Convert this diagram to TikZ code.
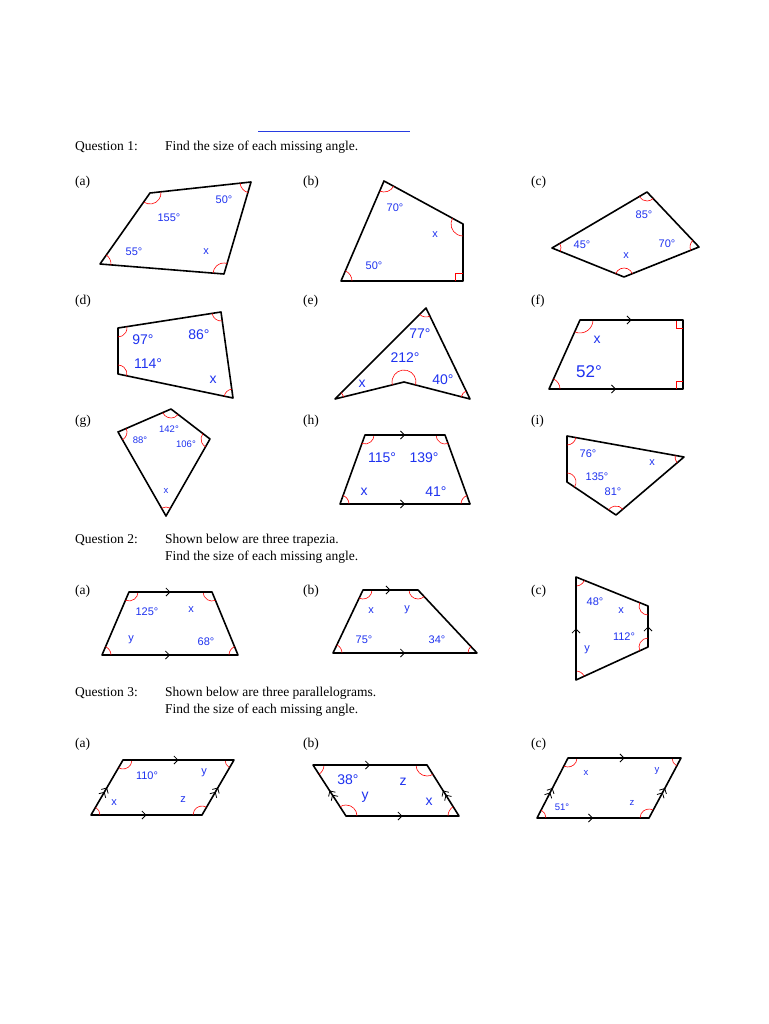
\documentclass[tikz,border=0pt]{standalone}
\usepackage{fontspec}
\setmainfont{Liberation Serif}
\newfontfamily\lab{Liberation Sans}
\usetikzlibrary{angles,decorations.markings,arrows.meta}
\definecolor{lblue}{RGB}{30,50,240}
\definecolor{lineblue}{RGB}{40,60,225}
\tikzset{
 poly/.style={draw=black,line width=1.6pt,line join=round},
 heading/.style={anchor=base west,font=\fontsize{13.5}{16}\selectfont,inner sep=0pt},
 lbl/.style={text=lblue,font=\lab\fontsize{11}{12}\selectfont,inner sep=0pt},
 lblb/.style={text=lblue,font=\lab\fontsize{14}{15}\selectfont,inner sep=0pt},
 lbls/.style={text=lblue,font=\lab\fontsize{9.5}{10}\selectfont,inner sep=0pt},
 parmark/.style={postaction={decorate},decoration={markings,mark=at position 0.5 with {\arrow[black,line width=0.8pt]{Straight Barb[length=4pt,width=8pt]}}}},
 dparmark/.style={postaction={decorate},decoration={markings,mark=at position 0.5 with {\arrow[black,line width=0.8pt]{Straight Barb[length=4pt,width=8pt]Straight Barb[length=4pt,width=8pt]}}}},
 rang/.style={draw=red,line width=0.6pt}
}
\newcommand\quadshape[5]{%
 \coordinate (#1-1) at #2; \coordinate (#1-2) at #3; \coordinate (#1-3) at #4; \coordinate (#1-4) at #5;
 \draw[poly] (#1-1)--(#1-2)--(#1-3)--(#1-4)--cycle;}
\newcommand\va[4][9pt]{\path pic[draw=red,line width=0.6pt,angle radius=#1]{angle=#2--#3--#4};}
\newcommand\allarcs[2][9pt]{\va[#1]{#2-4}{#2-1}{#2-2}\va[#1]{#2-1}{#2-2}{#2-3}\va[#1]{#2-2}{#2-3}{#2-4}\va[#1]{#2-3}{#2-4}{#2-1}}
\begin{document}
\begin{tikzpicture}[x=1pt,y=-1pt]
\useasboundingbox (0,0) rectangle (768,1024);
\fill[white] (0,0) rectangle (768,1024);
% header line
\coordinate (bl1) at (258,132); \coordinate (bl2) at (410,132);
\draw[lineblue,line width=1pt] (bl1)--(bl2);
\node[heading] (q1) at (75,151) {Question 1:};
\node[heading] (q1t) at (165,151) {Find the size of each missing angle.};
% labels
\foreach \t/\x/\y/\n in {(a)/75/186/la1,(b)/303/186/lb1,(c)/531/186/lc1,(d)/75/304/ld1,(e)/303/304/le1,(f)/531/304/lf1,(g)/75/424/lg1,(h)/303/424/lh1,(i)/531/424/li1,(a)/75/594/la2,(b)/303/594/lb2,(c)/531/594/lc2,(a)/75/747/la3,(b)/303/747/lb3,(c)/531/747/lc3}
 \node[heading] (\n) at (\x,\y) {\t};
% Q1 a
\quadshape{qa}{(100,264)}{(150,193)}{(251,182)}{(224,274)}
\allarcs[11pt]{qa}
\node[lbl] (ta1) at (169,218) {155°}; \node[lbl] (ta2) at (224,200) {50°};
\node[lbl] (ta3) at (134,252) {55°}; \node[lbl] (ta4) at (206,252) {x};
% Q1 b
\coordinate (qb-1) at (384,181); \coordinate (qb-2) at (463,224); \coordinate (qb-3) at (463,281); \coordinate (qb-4) at (341,281);
\draw[poly] (qb-1)--(qb-2)--(qb-3)--(qb-4)--cycle;
\va[11pt]{qb-4}{qb-1}{qb-2}\va[12pt]{qb-1}{qb-2}{qb-3}\va[11pt]{qb-3}{qb-4}{qb-1}
\draw[rang] (455,281)--(455,273)--(463,273);
\node[lbl] (tb1) at (395,208) {70°}; \node[lbl] (tb2) at (435,235) {x}; \node[lbl] (tb3) at (374,266) {50°};
% Q1 c
\quadshape{qc}{(552,248)}{(647,192)}{(699,247)}{(624,277)}
\allarcs{qc}
\node[lbl] (tc1) at (582,245) {45°}; \node[lbl] (tc2) at (644,215) {85°};
\node[lbl] (tc3) at (667,244) {70°}; \node[lbl] (tc4) at (626,256) {x};
% Q1 d
\quadshape{qd}{(118,328)}{(221,312)}{(233,398)}{(118,374)}
\allarcs{qd}
\node[lblb] (td1) at (143,340) {97°}; \node[lblb] (td2) at (199,335) {86°};
\node[lblb] (td3) at (148,364) {114°}; \node[lblb] (td4) at (213,380) {x};
% Q1 e
\quadshape{qe}{(335,399)}{(426,308)}{(470,399)}{(404,382)}
\va{qe-4}{qe-1}{qe-2}\va{qe-1}{qe-2}{qe-3}\va{qe-2}{qe-3}{qe-4}\va[12pt]{qe-3}{qe-4}{qe-1}
\node[lblb] (te1) at (420,334) {77°}; \node[lblb] (te2) at (405,358) {212°};
\node[lblb] (te3) at (443,380) {40°}; \node[lblb] (te4) at (362,384) {x};
% Q1 f
\quadshape{qf}{(549,389)}{(580,320)}{(683,320)}{(683,389)}
\va[11pt]{qf-4}{qf-1}{qf-2}\va[13pt]{qf-1}{qf-2}{qf-3}
\draw[rang] (676,320)--(676,328)--(683,328);
\draw[rang] (676,389)--(676,381)--(683,381);
\draw[parmark] (qf-2)--(qf-3); \draw[parmark] (qf-1)--(qf-4);
\node[lblb] (tf1) at (597,340) {x}; \node[lblb,font=\lab\fontsize{17}{18}\selectfont] (tf2) at (589,372) {52°};
% Q1 g
\quadshape{qg}{(118,432)}{(171,409)}{(210,439)}{(166,516)}
\allarcs{qg}
\node[lbls] (tg1) at (140,440) {88°}; \node[lbls] (tg2) at (169,429) {142°};
\node[lbls] (tg3) at (186,444) {106°}; \node[lbls] (tg4) at (166,491) {x};
% Q1 h
\quadshape{qh}{(340,504)}{(365,435)}{(445,435)}{(470,504)}
\allarcs{qh}
\draw[parmark] (qh-2)--(qh-3); \draw[parmark] (qh-1)--(qh-4);
\node[lblb] (th1) at (382,458) {115°}; \node[lblb] (th2) at (424,458) {139°};
\node[lblb] (th3) at (364,492) {x}; \node[lblb] (th4) at (436,492) {41°};
% Q1 i
\quadshape{qi}{(567,436)}{(684,457)}{(616,515)}{(567,482)}
\allarcs{qi}
\node[lbl] (ti1) at (588,454) {76°}; \node[lbl] (ti2) at (652,463) {x};
\node[lbl] (ti3) at (597,477) {135°}; \node[lbl] (ti4) at (613,492) {81°};
% Question 2
\node[heading] (q2) at (75,543) {Question 2:};
\node[heading] (q2t) at (165,543) {Shown below are three trapezia.};
\node[heading] (q2u) at (165,560) {Find the size of each missing angle.};
\quadshape{ra}{(102,655)}{(129,592)}{(212,592)}{(238,655)}
\allarcs{ra}
\draw[parmark] (ra-2)--(ra-3); \draw[parmark] (ra-1)--(ra-4);
\node[lbl] (ua1) at (147,612) {125°}; \node[lbl] (ua2) at (191,610) {x};
\node[lbl] (ua3) at (131,640) {y}; \node[lbl] (ua4) at (206,642) {68°};
\quadshape{rb}{(333,653)}{(363,590)}{(418,590)}{(477,653)}
\allarcs{rb}
\draw[parmark] (rb-2)--(rb-3); \draw[parmark] (rb-1)--(rb-4);
\node[lbl] (ub1) at (371,611) {x}; \node[lbl] (ub2) at (407,610) {y};
\node[lbl] (ub3) at (364,640) {75°}; \node[lbl] (ub4) at (437,640) {34°};
\quadshape{rc}{(576,577)}{(648,606)}{(648,647)}{(576,680)}
\allarcs{rc}
\draw[parmark] (rc-4)--(rc-1); \draw[parmark] (rc-3)--(rc-2);
\node[lbl] (uc1) at (595,602) {48°}; \node[lbl] (uc2) at (621,611) {x};
\node[lbl] (uc3) at (624,637) {112°}; \node[lbl] (uc4) at (587,650) {y};
% Question 3
\node[heading] (q3) at (75,696) {Question 3:};
\node[heading] (q3t) at (165,696) {Shown below are three parallelograms.};
\node[heading] (q3u) at (165,713) {Find the size of each missing angle.};
\quadshape{sa}{(91,815)}{(123,760)}{(234,760)}{(202,815)}
\allarcs{sa}
\draw[parmark] (sa-2)--(sa-3); \draw[parmark] (sa-1)--(sa-4);
\draw[dparmark] (sa-1)--(sa-2); \draw[dparmark] (sa-4)--(sa-3);
\node[lbl] (va1) at (147,776) {110°}; \node[lbl] (va2) at (204,773) {y};
\node[lbl] (va3) at (114,803) {x}; \node[lbl] (va4) at (183,800) {z};
\quadshape{sb}{(313,765)}{(427,765)}{(459,816)}{(346,816)}
\allarcs[11pt]{sb}
\draw[parmark] (sb-1)--(sb-2); \draw[parmark] (sb-4)--(sb-3);
\draw[dparmark] (sb-4)--(sb-1); \draw[dparmark] (sb-3)--(sb-2);
\node[lblb] (vb1) at (348,780) {38°}; \node[lblb] (vb2) at (403,782) {z};
\node[lblb] (vb3) at (365,797) {y}; \node[lblb] (vb4) at (429,802) {x};
\quadshape{sc}{(537,818)}{(568,758)}{(681,758)}{(649,818)}
\allarcs{sc}
\draw[parmark] (sc-2)--(sc-3); \draw[parmark] (sc-1)--(sc-4);
\draw[dparmark] (sc-1)--(sc-2); \draw[dparmark] (sc-4)--(sc-3);
\node[lbls] (vc1) at (586,773) {x}; \node[lbls] (vc2) at (657,771) {y};
\node[lbls] (vc3) at (562,807) {51°}; \node[lbls] (vc4) at (632,803) {z};
\end{tikzpicture}
\end{document}
